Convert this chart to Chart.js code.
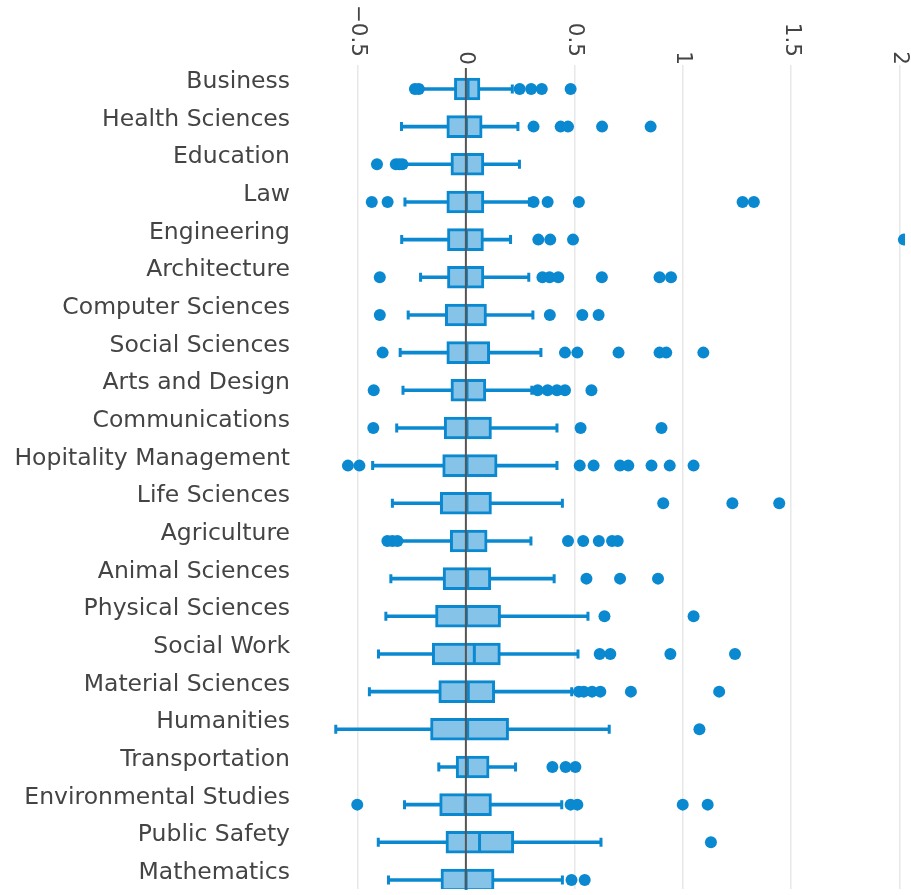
<!DOCTYPE html>
<html>
<head>
<meta charset="utf-8">
<script src="https://cdn.jsdelivr.net/npm/chart.js@4.4.1/dist/chart.umd.min.js"></script>
<style>
  body { margin: 0; background: #fff; }
  canvas { display: block; }
</style>
</head>
<body>
<canvas id="boxChart" width="911" height="895"></canvas>
<script>
const categories = ['Business', 'Health Sciences', 'Education', 'Law', 'Engineering', 'Architecture',
    'Computer Sciences', 'Social Sciences', 'Arts and Design', 'Communications', 'Hopitality Management',
    'Life Sciences', 'Agriculture', 'Animal Sciences', 'Physical Sciences', 'Social Work',
    'Material Sciences', 'Humanities', 'Transportation', 'Environmental Studies', 'Public Safety', 'Mathematics'];

const lowWhisker = [-0.205, -0.297, -0.28, -0.281, -0.296, -0.209, -0.266, -0.303, -0.29, -0.319, -0.43,
    -0.339, -0.305, -0.346, -0.369, -0.403, -0.445, -0.6, -0.125, -0.283, -0.404, -0.357];
const q1 = [-0.053, -0.088, -0.069, -0.088, -0.085, -0.085, -0.095, -0.088, -0.069, -0.1, -0.107,
    -0.118, -0.072, -0.105, -0.14, -0.155, -0.125, -0.163, -0.045, -0.121, -0.092, -0.115];
const median = [0.01, 0.003, 0.003, 0.003, 0.003, 0.003, 0.003, 0.005, 0.005, 0.005, 0.005,
    0.005, 0.005, 0.008, 0.003, 0.039, 0.011, 0.008, 0.007, -0.003, 0.063, 0.001];
const q3 = [0.065, 0.075, 0.083, 0.083, 0.081, 0.083, 0.095, 0.11, 0.092, 0.118, 0.144,
    0.118, 0.098, 0.115, 0.16, 0.159, 0.133, 0.197, 0.107, 0.118, 0.221, 0.13];
const highWhisker = [0.214, 0.24, 0.247, 0.293, 0.206, 0.29, 0.309, 0.346, 0.304, 0.42, 0.42,
    0.445, 0.3, 0.407, 0.563, 0.517, 0.488, 0.661, 0.229, 0.442, 0.623, 0.445];
const outliers = [
    [-0.235, -0.217, 0.248, 0.301, 0.35, 0.483],
    [0.312, 0.437, 0.471, 0.628, 0.852],
    [-0.41, -0.323, -0.308, -0.293],
    [-0.434, -0.361, 0.312, 0.377, 0.521, 1.276, 1.328],
    [0.334, 0.389, 0.494, 2.02],
    [-0.397, 0.353, 0.386, 0.426, 0.627, 0.893, 0.946],
    [-0.397, 0.387, 0.537, 0.612],
    [-0.384, 0.457, 0.514, 0.704, 0.893, 0.924, 1.095],
    [-0.425, 0.331, 0.377, 0.42, 0.457, 0.579],
    [-0.427, 0.529, 0.902],
    [-0.544, -0.491, 0.525, 0.589, 0.711, 0.749, 0.856, 0.94, 1.05],
    [0.91, 1.229, 1.445],
    [-0.362, -0.339, -0.316, 0.471, 0.541, 0.613, 0.674, 0.7],
    [0.556, 0.711, 0.886],
    [0.639, 1.05],
    [0.617, 0.666, 0.943, 1.241],
    [0.521, 0.544, 0.582, 0.62, 0.761, 1.168],
    [1.077],
    [0.399, 0.46, 0.505],
    [-0.501, 0.483, 0.514, 1.0, 1.115],
    [1.13],
    [0.487, 0.548]
];

const xTicks = [-0.5, 0, 0.5, 1, 1.5, 2];
const xTickLabels = ['\u22120.5', '0', '0.5', '1', '1.5', '2'];

const BLUE = '#0a88d0';
const FILL = '#85c4e8';
const TEXT = '#444';

const whiskerData = categories.map((c, i) => ({ x: [lowWhisker[i], highWhisker[i]], y: i }));
const boxData = categories.map((c, i) => ({ x: [q1[i], q3[i]], y: i }));
const outlierData = [];
outliers.forEach((list, i) => list.forEach(v => outlierData.push({ x: v, y: i })));

// medians, whisker caps, zero line and the rotated top labels
const boxParts = {
    id: 'boxParts',
    afterDatasetsDraw(chart) {
        const { ctx, chartArea } = chart;
        const xs = chart.scales.x, ys = chart.scales.y;
        ctx.save();
        ctx.strokeStyle = BLUE;
        ctx.lineWidth = 3;
        categories.forEach((c, i) => {
            const y = ys.getPixelForValue(i);
            const m = xs.getPixelForValue(median[i]);
            ctx.beginPath();
            ctx.moveTo(m, y - 10);
            ctx.lineTo(m, y + 10);
            [lowWhisker[i], highWhisker[i]].forEach(v => {
                const px = xs.getPixelForValue(v);
                ctx.moveTo(px, y - 4.5);
                ctx.lineTo(px, y + 4.5);
            });
            ctx.stroke();
        });
        const x0 = xs.getPixelForValue(0);
        ctx.strokeStyle = '#555';
        ctx.lineWidth = 2;
        ctx.beginPath();
        ctx.moveTo(x0, chartArea.top + 3);
        ctx.lineTo(x0, chartArea.bottom);
        ctx.stroke();
        ctx.restore();
    },
    afterDraw(chart) {
        const { ctx } = chart;
        const xs = chart.scales.x;
        ctx.save();
        ctx.fillStyle = TEXT;
        ctx.font = '21.5px "DejaVu Sans"';
        ctx.textAlign = 'right';
        ctx.textBaseline = 'middle';
        xTicks.forEach((v, i) => {
            const label = xTickLabels[i];
            // single digits sit a bit lower in the reference
            const end = label.length > 1 ? 57 : 65;
            ctx.save();
            ctx.translate(xs.getPixelForValue(v), end);
            ctx.rotate(Math.PI / 2);
            ctx.fillText(label, 0, 0);
            ctx.restore();
        });
        ctx.restore();
    }
};

const ctx = document.getElementById('boxChart').getContext('2d');
new Chart(ctx, {
    data: {
        datasets: [
            {
                type: 'bar',
                data: whiskerData,
                backgroundColor: BLUE,
                borderWidth: 0,
                barThickness: 3,
                grouped: false,
                order: 3
            },
            {
                type: 'bar',
                data: boxData,
                backgroundColor: FILL,
                borderColor: BLUE,
                borderWidth: 3,
                borderSkipped: false,
                barThickness: 22,
                grouped: false,
                order: 2
            },
            {
                type: 'scatter',
                data: outlierData,
                backgroundColor: BLUE,
                borderWidth: 0,
                pointRadius: 6,
                order: 1
            }
        ]
    },
    options: {
        indexAxis: 'y',
        responsive: false,
        animation: false,
        layout: { padding: 0 },
        plugins: {
            legend: { display: false },
            tooltip: { enabled: false }
        },
        scales: {
            x: {
                type: 'linear',
                position: 'top',
                min: -0.765,
                max: 2.025,
                afterBuildTicks: s => { s.ticks = xTicks.map(v => ({ value: v })); },
                afterFit: s => {
                    s.height = 65;
                    s.paddingLeft = s.paddingRight = 0;
                },
                ticks: { display: false },
                grid: {
                    color: c => c.tick && c.tick.value === 0 ? 'rgba(0,0,0,0)' : '#e8e8e8',
                    lineWidth: 1.5,
                    drawTicks: false
                },
                border: { display: false }
            },
            y: {
                type: 'linear',
                reverse: true,
                offset: false,
                min: -0.636,
                max: 21.24,
                afterBuildTicks: s => { s.ticks = categories.map((c, i) => ({ value: i })); },
                afterFit: s => {
                    s.width = 300;
                    s.paddingTop = s.paddingBottom = 0;
                },
                ticks: {
                    callback: v => categories[v],
                    color: TEXT,
                    font: { family: 'DejaVu Sans', size: 23.5 },
                    padding: 10,
                    labelOffset: -7,
                    autoSkip: false
                },
                grid: { display: false, drawTicks: false },
                border: { display: false }
            }
        }
    },
    plugins: [boxParts]
});
</script>
</body>
</html>
